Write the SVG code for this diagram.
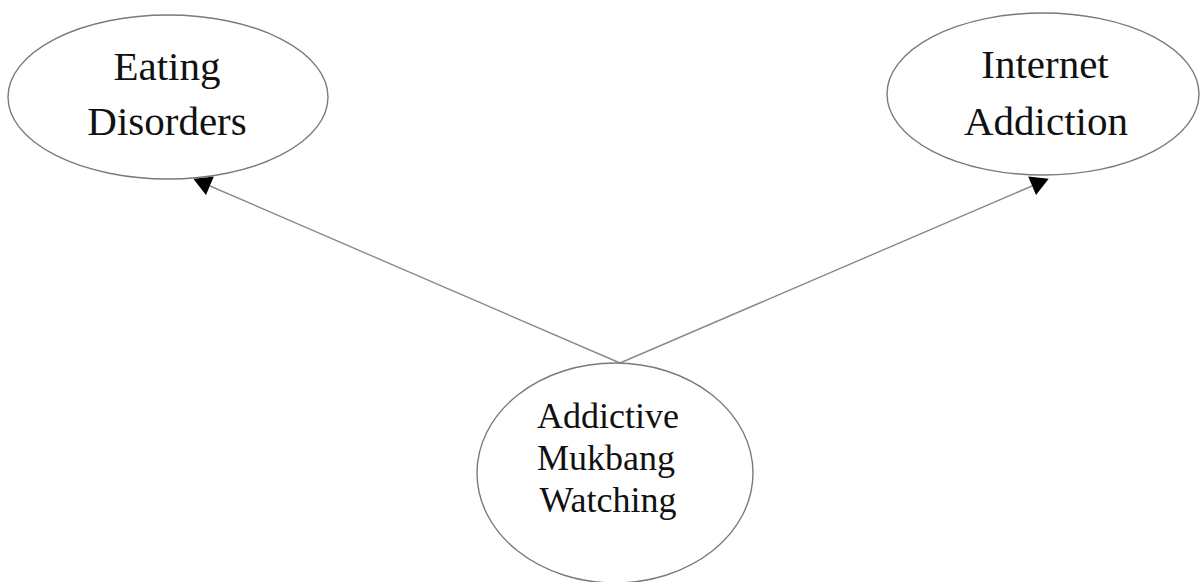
<svg xmlns="http://www.w3.org/2000/svg" width="1201" height="582" viewBox="0 0 1201 582">
  <style>
    .node { fill: #ffffff; stroke: #7a7a7a; stroke-width: 1.4; }
    .label { font-family: "Liberation Serif", "Times New Roman", serif; fill: #111111; text-anchor: middle; }
    .edge { stroke: #8a8a8a; stroke-width: 1.4; fill: none; }
    .head { fill: #000000; stroke: none; }
  </style>
  <rect width="1201" height="582" fill="#ffffff"/>

  <g id="connectors">
    <line class="edge" x1="620" y1="363" x2="210" y2="186"/>
    <polygon class="head" points="193.3,178.8 213.8,176.6 206,195"/>
    <line class="edge" x1="620" y1="363" x2="1032" y2="186"/>
    <polygon class="head" points="1028.2,176.6 1048.7,178.8 1036,195"/>
  </g>

  <g id="eating-disorders">
    <ellipse class="node" cx="168" cy="97" rx="160" ry="82"/>
    <text class="label" font-size="41" x="167" y="80">Eating</text>
    <text class="label" font-size="41" x="167" y="135">Disorders</text>
  </g>

  <g id="internet-addiction">
    <ellipse class="node" cx="1043" cy="94" rx="156" ry="81"/>
    <text class="label" font-size="41" x="1045" y="78">Internet</text>
    <text class="label" font-size="41" x="1046" y="135">Addiction</text>
  </g>

  <g id="addictive-mukbang-watching">
    <ellipse class="node" cx="615" cy="473" rx="138" ry="110"/>
    <text class="label" font-size="36" x="608" y="428">Addictive</text>
    <text class="label" font-size="36" x="606" y="470">Mukbang</text>
    <text class="label" font-size="36" x="608" y="512">Watching</text>
  </g>
</svg>
